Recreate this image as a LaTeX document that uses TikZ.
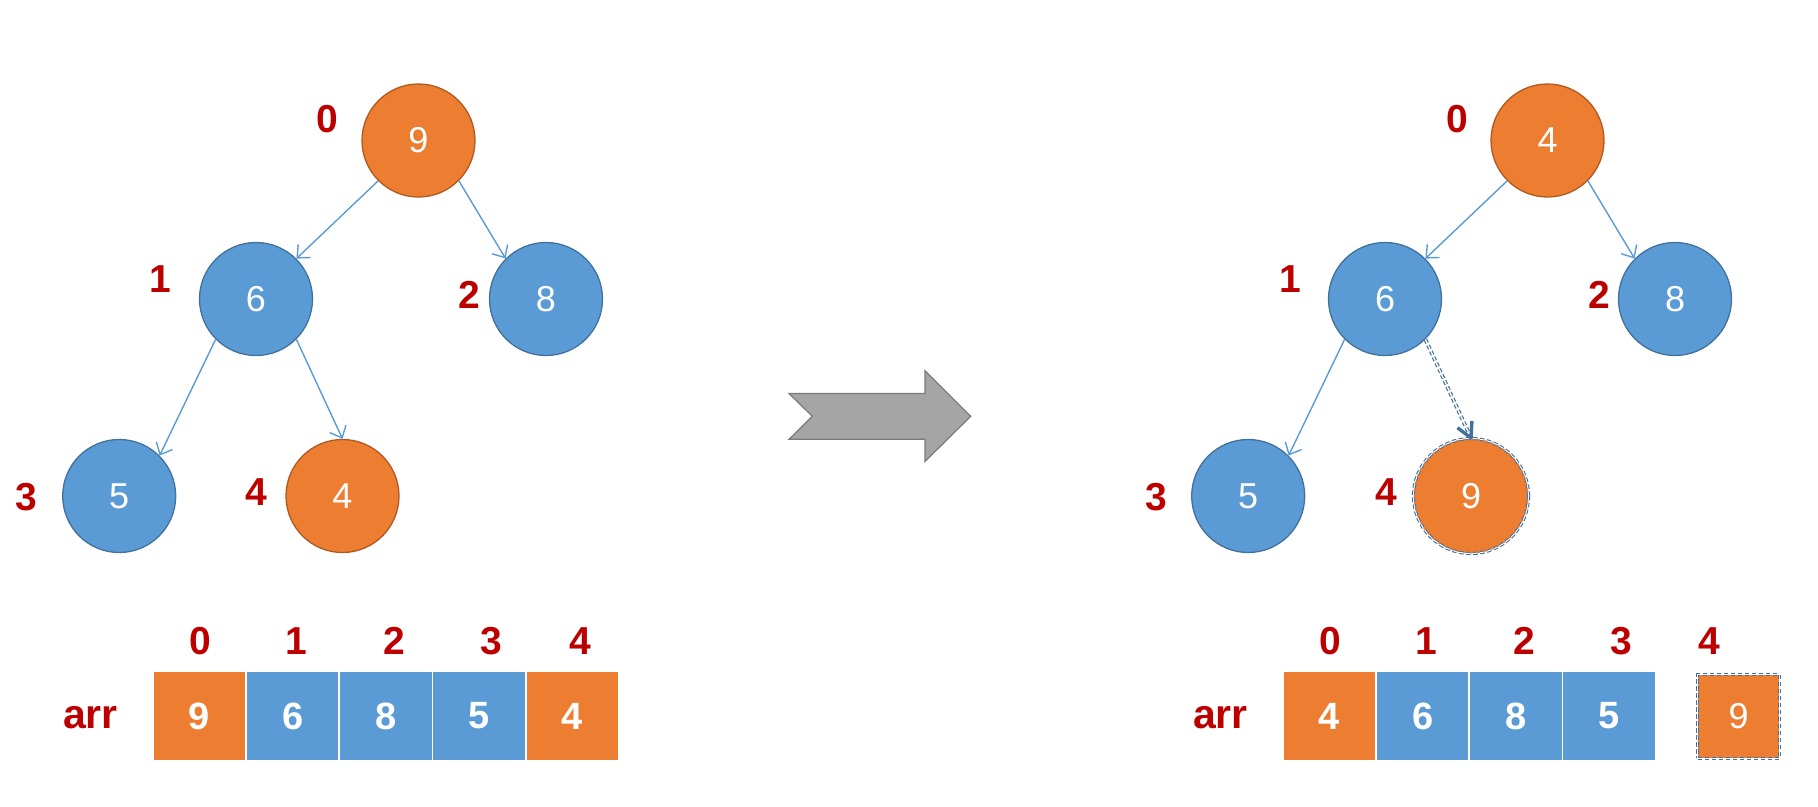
\documentclass[tikz,border=0pt]{standalone}
\usepackage{fontspec}
\setmainfont{Liberation Sans}
\usetikzlibrary{arrows.meta,calc}
\definecolor{orng}{HTML}{ED7D31}
\definecolor{orngborder}{HTML}{AE5A21}
\definecolor{blu}{HTML}{5B9BD5}
\definecolor{bluborder}{HTML}{41719C}
\definecolor{idxred}{HTML}{BC0000}
\definecolor{dashblu}{HTML}{41719C}
\definecolor{bigfill}{HTML}{A5A5A5}
\definecolor{bigdraw}{HTML}{7A7A7A}
\begin{document}
\begin{tikzpicture}[x=1pt,y=-1pt,
  treenode/.style={circle, minimum size=113pt, inner sep=0pt, line width=1.3pt, text=white, font=\fontsize{36}{36}\selectfont},
  orangenode/.style={treenode, fill=orng, draw=orngborder},
  bluenode/.style={treenode, fill=blu, draw=bluborder},
  idx/.style={text=idxred, inner sep=0pt, font=\bfseries\fontsize{39}{39}\selectfont},
  arrlabel/.style={text=idxred, inner sep=0pt, font=\bfseries\fontsize{41}{41}\selectfont},
  cell/.style={minimum width=91.5pt, minimum height=88pt, inner sep=0pt, text=white, font=\bfseries\fontsize{38}{38}\selectfont},
  orangecell/.style={cell, fill=orng},
  bluecell/.style={cell, fill=blu},
  treeedge/.style={draw=blu, line width=1.4pt, -{Straight Barb[length=10pt,width=18pt]}},
  dashring/.style={draw=dashblu, double=white, double distance=1pt, line width=1.1pt, dash pattern=on 4.5pt off 2.5pt},
]
\useasboundingbox (0,0) rectangle (1818,806);

% ---------------- left tree ----------------
\node[orangenode] (a0) at (418.5,140.5) {9};
\node[bluenode]   (a1) at (256,299) {6};
\node[bluenode]   (a2) at (546,299) {8};
\node[bluenode]   (a3) at (119.2,496) {5};
\node[orangenode] (a4) at (342.5,496) {4};
\draw[treeedge] (a0.south west) -- (a1.north east);
\draw[treeedge] (a0.south east) -- (a2.north west);
\draw[treeedge] (a1.south west) -- (a3.north east);
\draw[treeedge] (a1.south east) -- (a4.north);
\node[idx] (la0) at (327.3,119.3) {0};
\node[idx] (la1) at (160,279.4) {1};
\node[idx] (la2) at (469.6,294.5) {2};
\node[idx] (la3) at (26.7,496.7) {3};
\node[idx] (la4) at (256,491.7) {4};

% ---------------- left array ----------------
\node[arrlabel] (arrL) at (90.5,718) {arr};
\node[orangecell] (c0) at (199.3,716) {9};
\node[bluecell]   (c1) at (292.6,716) {6};
\node[bluecell]   (c2) at (385.9,716) {8};
\node[bluecell]   (c3) at (479.1,716) {5};
\node[orangecell] (c4) at (572.4,716) {4};
\node[idx] (ic0) at (200,640.7) {0};
\node[idx] (ic1) at (296.7,640.7) {1};
\node[idx] (ic2) at (394,640.7) {2};
\node[idx] (ic3) at (491,640.7) {3};
\node[idx] (ic4) at (580.7,640.7) {4};

% ---------------- big arrow ----------------
\draw[fill=bigfill, draw=bigdraw, line width=1.2pt, line join=miter]
  (789,393.5) -- (925,393.5) -- (925,370.7) -- (970.7,416.3) -- (925,461.5)
  -- (925,439.3) -- (789,439.3) -- (812.3,416.3) -- cycle;

% ---------------- right tree ----------------
\node[orangenode] (b0) at (1547.5,140.5) {4};
\node[bluenode]   (b1) at (1385,299) {6};
\node[bluenode]   (b2) at (1675,299) {8};
\node[bluenode]   (b3) at (1248.2,496) {5};
\node[treenode, minimum size=115pt, fill=orng, dashring] (b4) at (1471,496) {9};
\draw[treeedge] (b0.south west) -- (b1.north east);
\draw[treeedge] (b0.south east) -- (b2.north west);
\draw[treeedge] (b1.south west) -- (b3.north east);
\draw[draw=dashblu, double=white, double distance=1.4pt, line width=1.2pt, dash pattern=on 4pt off 2.5pt]
  (b1.south east) -- ($(b4.north)!2pt!(b1.south east)$);
\draw[dashblu, line width=3.4pt, line join=round]
  ($(b4.north)!17pt!28:(b1.south east)$) -- (b4.north) -- ($(b4.north)!17pt!-28:(b1.south east)$);
\node[idx] (lb0) at (1457.3,119.3) {0};
\node[idx] (lb1) at (1290,279.4) {1};
\node[idx] (lb2) at (1599.6,294.5) {2};
\node[idx] (lb3) at (1156.7,496.7) {3};
\node[idx] (lb4) at (1386,491.7) {4};

% ---------------- right array ----------------
\node[arrlabel] (arrR) at (1220.5,718) {arr};
\node[orangecell] (d0) at (1329.3,716) {4};
\node[bluecell]   (d1) at (1422.6,716) {6};
\node[bluecell]   (d2) at (1515.9,716) {8};
\node[bluecell]   (d3) at (1609.1,716) {5};
\node[cell, fill=orng, dashring, minimum width=81.8pt, minimum height=83.8pt, font=\fontsize{36}{36}\selectfont] (d4) at (1738.5,716.4) {9};
\node[idx] (id0) at (1330,640.7) {0};
\node[idx] (id1) at (1426.7,640.7) {1};
\node[idx] (id2) at (1524,640.7) {2};
\node[idx] (id3) at (1621,640.7) {3};
\node[idx] (id4) at (1709,640.7) {4};
\end{tikzpicture}
\end{document}
